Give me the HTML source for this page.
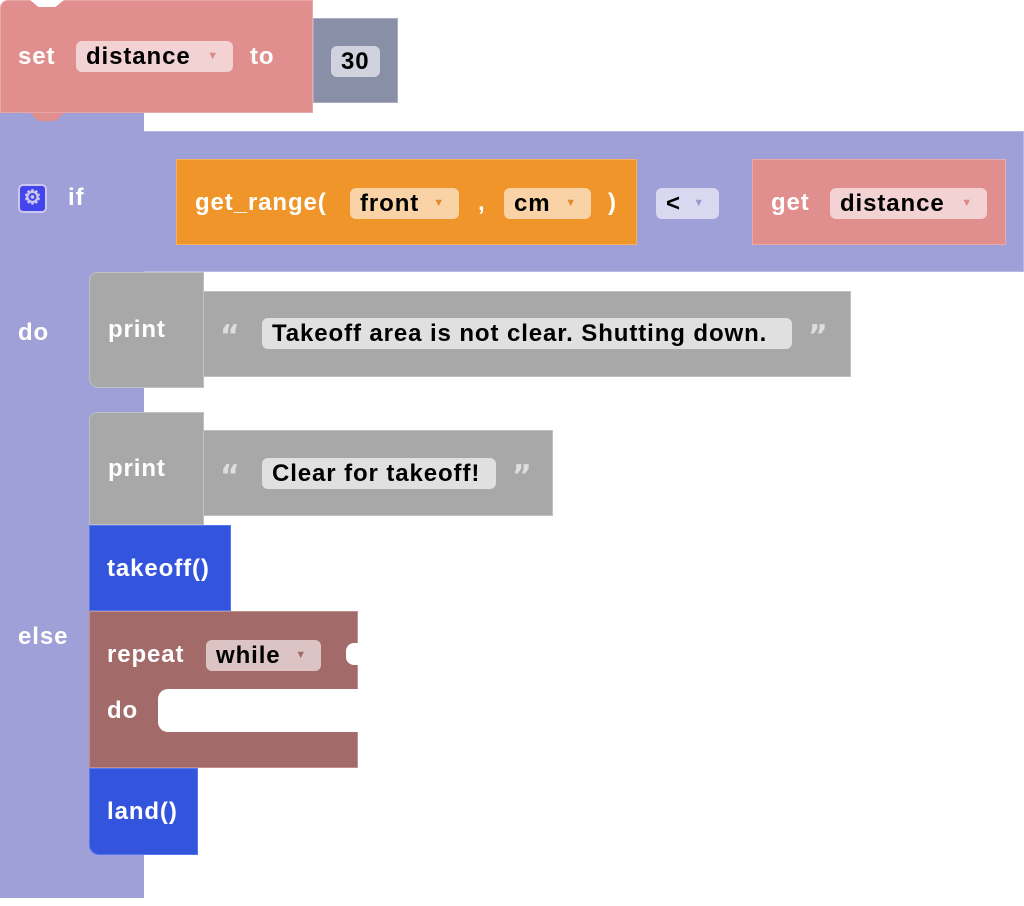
<!DOCTYPE html>
<html><head><meta charset="utf-8"><style>
body{margin:0;width:1024px;height:906px;background:#fff;position:relative;overflow:hidden;font-family:"Liberation Sans",sans-serif;font-weight:bold;font-size:24px;letter-spacing:0.9px}
.b{position:absolute;box-sizing:border-box}
.t{position:absolute;color:#fff;line-height:26px;white-space:nowrap}
.c{position:absolute;border-radius:6px;color:#000;line-height:31px;padding-left:10px;box-sizing:border-box;white-space:nowrap}
.c i{font-style:normal;font-size:11px;position:absolute;right:14px;top:0}
.q{position:absolute;color:#ddd;font-family:"DejaVu Sans",sans-serif;font-size:30px;line-height:30px;font-weight:bold}
</style></head><body>
<!-- set block -->
<div class="b" style="left:0;top:0;width:313px;height:113px;background:#e08e8e;border:1px solid #e8a8a8;border-radius:8px 0 0 0"></div>
<div class="b" style="left:30px;top:0;width:34px;height:7px;background:#fff;clip-path:polygon(0 0,100% 0,75% 100%,25% 100%)"></div>
<div class="t" style="left:18px;top:44px">set</div>
<div class="c" style="left:76px;top:41px;width:157px;background:#f2d2d2">distance<i style="color:#d88">▼</i></div>
<div class="t" style="left:250px;top:44px">to</div>
<div class="b" style="left:313px;top:18px;width:85px;height:85px;background:#8a8fa8;border:1px solid #a8acc0"></div>
<div class="c" style="left:331px;top:46px;width:49px;background:#d0d3dd;padding-left:10px">30</div>
<!-- if block -->
<div class="b" style="left:0;top:113px;width:144px;height:785px;background:#a0a0d8"></div>
<div class="b" style="left:30px;top:113px;width:34px;height:8px;background:#e08e8e;clip-path:polygon(0 0,100% 0,75% 100%,25% 100%)"></div>
<div class="b" style="left:144px;top:131px;width:880px;height:141px;background:#a0a0d8;border:1px solid #b8b8e4;border-left:none"></div>
<div class="b" style="left:18px;top:184px;width:29px;height:29px;background:#4444ee;border:2px solid #c8c8f0;border-radius:5px;color:#c8c8f0;font-size:20px;line-height:24px;text-align:center;letter-spacing:0">⚙</div>
<div class="t" style="left:68px;top:185px">if</div>
<div class="t" style="left:18px;top:320px">do</div>
<div class="t" style="left:18px;top:624px">else</div>
<!-- orange -->
<div class="b" style="left:176px;top:159px;width:461px;height:86px;background:#f0952a;border:1px solid #f5b060"></div>
<div class="t" style="left:195px;top:190px">get_range(</div>
<div class="c" style="left:350px;top:188px;width:109px;background:#f9d3a6">front<i style="color:#e08a30">▼</i></div>
<div class="t" style="left:478px;top:190px">,</div>
<div class="c" style="left:504px;top:188px;width:87px;background:#f9d3a6">cm<i style="color:#e08a30">▼</i></div>
<div class="t" style="left:608px;top:190px">)</div>
<div class="c" style="left:656px;top:188px;width:63px;background:#d8d8f0">&lt;<i style="color:#99c">▼</i></div>
<div class="b" style="left:752px;top:159px;width:254px;height:86px;background:#e08e8e;border:1px solid #eaa8a8"></div>
<div class="t" style="left:771px;top:190px">get</div>
<div class="c" style="left:830px;top:188px;width:157px;background:#f2d2d2">distance<i style="color:#d88">▼</i></div>
<!-- print 1 -->
<div class="b" style="left:89px;top:272px;width:115px;height:116px;background:#a8a8a8;border:1px solid #c0c0c0;border-radius:8px 0 0 10px"></div>
<div class="b" style="left:203px;top:291px;width:648px;height:86px;background:#a8a8a8;border:1px solid #c0c0c0"></div>
<div class="t" style="left:108px;top:317px">print</div>
<div class="q" style="left:220px;top:322px">“</div>
<div class="c" style="left:262px;top:318px;width:530px;background:#e0e0e0">Takeoff area is not clear. Shutting down.</div>
<div class="q" style="left:808px;top:322px">”</div>
<!-- print 2 -->
<div class="b" style="left:89px;top:412px;width:115px;height:113px;background:#a8a8a8;border:1px solid #c0c0c0;border-radius:8px 0 0 0"></div>
<div class="b" style="left:203px;top:430px;width:350px;height:86px;background:#a8a8a8;border:1px solid #c0c0c0"></div>
<div class="t" style="left:108px;top:456px">print</div>
<div class="q" style="left:220px;top:462px">“</div>
<div class="c" style="left:262px;top:458px;width:234px;background:#e0e0e0">Clear for takeoff!</div>
<div class="q" style="left:512px;top:462px">”</div>
<!-- takeoff -->
<div class="b" style="left:89px;top:525px;width:142px;height:86px;background:#3355dd;border:1px solid #5577ee"></div>
<div class="t" style="left:107px;top:556px">takeoff()</div>
<!-- repeat -->
<div class="b" style="left:89px;top:611px;width:269px;height:157px;background:#a36a6a;border:1px solid #c09090"></div>
<div class="b" style="left:158px;top:689px;width:201px;height:43px;background:#fff;border-radius:10px 0 0 10px"></div>
<div class="t" style="left:107px;top:642px">repeat</div>
<div class="c" style="left:206px;top:640px;width:115px;background:#dcc4c4">while<i style="color:#a36a6a">▼</i></div>
<div class="t" style="left:107px;top:698px">do</div>
<div class="b" style="left:346px;top:643px;width:13px;height:22px;background:#fff;border-radius:8px 0 0 8px"></div>
<!-- land -->
<div class="b" style="left:89px;top:768px;width:109px;height:87px;background:#3355dd;border:1px solid #5577ee;border-radius:0 0 0 10px"></div>
<div class="t" style="left:107px;top:799px">land()</div>
</body></html>
